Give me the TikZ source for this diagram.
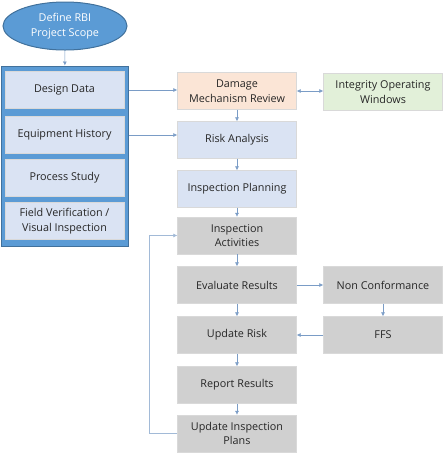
\documentclass[tikz,border=0pt]{standalone}
\usepackage{fontspec}
\setmainfont{Open Sans}
\usetikzlibrary{arrows.meta,shapes.geometric}

\definecolor{accentblue}{HTML}{5B9BD5}
\definecolor{accentline}{HTML}{41719C}
\definecolor{paleblue}{HTML}{DAE3F3}
\definecolor{palepeach}{HTML}{FBE5D6}
\definecolor{palegreen}{HTML}{E2F0D9}
\definecolor{palegray}{HTML}{D0D0D0}
\definecolor{linkblue}{HTML}{7A9CC6}

\tikzset{
	every picture/.style={line width=0.75pt},
	boxfont/.style={font=\fontsize{10.8}{14.5}\selectfont},
	stepbox/.style={rectangle, minimum width=119, minimum height=37, inner sep=1pt, align=center, boxfont, text=black!85, draw=white!85!black, line width=0.4pt},
	infobox/.style={stepbox, fill=paleblue},
	greybox/.style={stepbox, fill=palegray},
	link/.style={draw=linkblue, line width=0.6pt, -{Latex[length=4pt,width=4pt]}}}

\begin{document}
\begin{tikzpicture}[x=1pt,y=1pt,yscale=-1]
	\useasboundingbox (0,0) rectangle (444,459);

	%Shape: Ellipse
	\node (scope) [ellipse, minimum width=124, minimum height=48, fill=accentblue, draw=accentline, line width=1pt, text=white, align=center, boxfont] at (65,26) {Define RBI\\Project Scope};

	%Shape: Rectangle (data sources)
	\node (sources) [rectangle, minimum width=127, minimum height=180, fill=accentblue, draw=accentline, line width=1pt] at (64.5,156) {};
	% Text Node
	\node (dd) [infobox] at (64.5,90) {Design Data};
	% Text Node
	\node (eh) [infobox] at (64.5,135) {Equipment History};
	% Text Node
	\node (ps) [infobox] at (64.5,178) {Process Study};
	% Text Node
	\node (fv) [infobox] at (64.5,221) {Field Verification /\\Visual Inspection};

	%Main column
	\node (dmr) [stepbox, fill=palepeach] at (237,91) {Damage\\Mechanism Review};
	\node (iow) [stepbox, fill=palegreen] at (383,92) {Integrity Operating\\Windows};
	\node (ra) [infobox] at (237,140) {Risk Analysis};
	\node (ip) [infobox] at (237,189) {Inspection Planning};
	\node (ia) [greybox] at (237,235.5) {Inspection\\Activities};
	\node (er) [greybox] at (237,285) {Evaluate Results};
	\node (nc) [greybox] at (383,285) {Non Conformance};
	\node (ur) [greybox] at (237,335) {Update Risk};
	\node (ffs) [greybox] at (383,335) {FFS};
	\node (rr) [greybox] at (237,385) {Report Results};
	\node (uip) [greybox] at (237,433.5) {Update Inspection\\Plans};
	\coordinate (loop) at (149,433.5);

	%Straight Lines
	\draw [link] (scope) -- (sources);
	\draw [link] (dd.east -| sources.east) -- (dmr.west |- dd.east);
	\draw [link] (eh.east -| sources.east) -- (ra.west |- eh.east);
	\draw [link, {Latex[length=4pt,width=4pt]}-{Latex[length=4pt,width=4pt]}] (dmr.east) -- (iow.west |- dmr.east);
	\draw [link] (dmr) -- (ra);
	\draw [link] (ra) -- (ip);
	\draw [link] (ip) -- (ia);
	\draw [link] (ia) -- (er);
	\draw [link] (er) -- (ur);
	\draw [link] (ur) -- (rr);
	\draw [link] (rr) -- (uip);
	\draw [link] (er) -- (nc);
	\draw [link] (nc) -- (ffs);
	\draw [link] (ffs) -- (ur);
	\draw [link, draw=linkblue!70] (uip.west) -- (loop) |- (ia.west);

\end{tikzpicture}
\end{document}
